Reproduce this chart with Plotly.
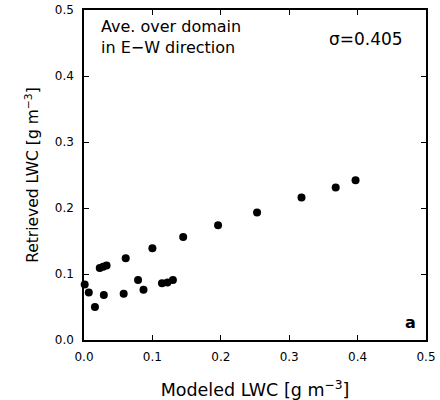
import plotly.graph_objects as go

modeled_lwc = [0.001, 0.007, 0.016, 0.023, 0.028, 0.033, 0.029, 0.058, 0.061, 0.079,
               0.087, 0.100, 0.114, 0.122, 0.130, 0.145, 0.196, 0.253, 0.318, 0.368, 0.397]
retrieved_lwc = [0.084, 0.072, 0.050, 0.109, 0.111, 0.113, 0.068, 0.070, 0.124, 0.091,
                 0.076, 0.139, 0.086, 0.087, 0.091, 0.156, 0.174, 0.193, 0.216, 0.231, 0.242]
tick_vals = [0.0, 0.1, 0.2, 0.3, 0.4, 0.5]
tick_text = ["0.0", "0.1", "0.2", "0.3", "0.4", "0.5"]

FONT = "DejaVu Sans, Liberation Sans, sans-serif"

fig = go.Figure()
fig.add_trace(go.Scatter(
    x=modeled_lwc, y=retrieved_lwc, mode="markers",
    marker=dict(color="black", size=8, line=dict(width=0)),
    showlegend=False, cliponaxis=False,
))

axis_common = dict(
    range=[0, 0.5], tickvals=tick_vals, ticktext=tick_text,
    ticks="inside", ticklen=5, tickwidth=1.2, tickcolor="black",
    showline=True, linecolor="black", linewidth=1.5, mirror="ticks",
    showgrid=False, zeroline=False, automargin=False,
    tickfont=dict(family=FONT, size=12, color="black"),
)

fig.update_layout(
    width=440, height=400,
    margin=dict(l=84, r=14, t=10, b=60),
    plot_bgcolor="white", paper_bgcolor="white",
    xaxis=dict(**axis_common, ticklabelstandoff=5,
               title=dict(text="Modeled LWC [g m<sup>−3</sup>]",
                          font=dict(family=FONT, size=17.5, color="black"), standoff=22)),
    yaxis=dict(**axis_common, ticklabelstandoff=6,
               title=dict(text="Retrieved LWC [g m<sup>−3</sup>]",
                          font=dict(family=FONT, size=15.5, color="black"), standoff=12)),
    annotations=[
        dict(text="Ave. over domain<br>in E−W direction", xref="paper", yref="paper",
             x=0.045, y=0.985, xanchor="left", yanchor="top", showarrow=False, align="left",
             font=dict(family=FONT, size=16, color="black")),
        dict(text="σ=0.405", xref="paper", yref="paper",
             x=0.94, y=0.95, xanchor="right", yanchor="top", showarrow=False,
             font=dict(family=FONT, size=17, color="black")),
        dict(text="<b>a</b>", xref="paper", yref="paper",
             x=0.977, y=0.019, xanchor="right", yanchor="bottom", showarrow=False,
             font=dict(family=FONT, size=16, color="black")),
    ],
)

fig.write_html("out.html", config={"displayModeBar": False},
               post_script="document.body.style.margin='0';")
